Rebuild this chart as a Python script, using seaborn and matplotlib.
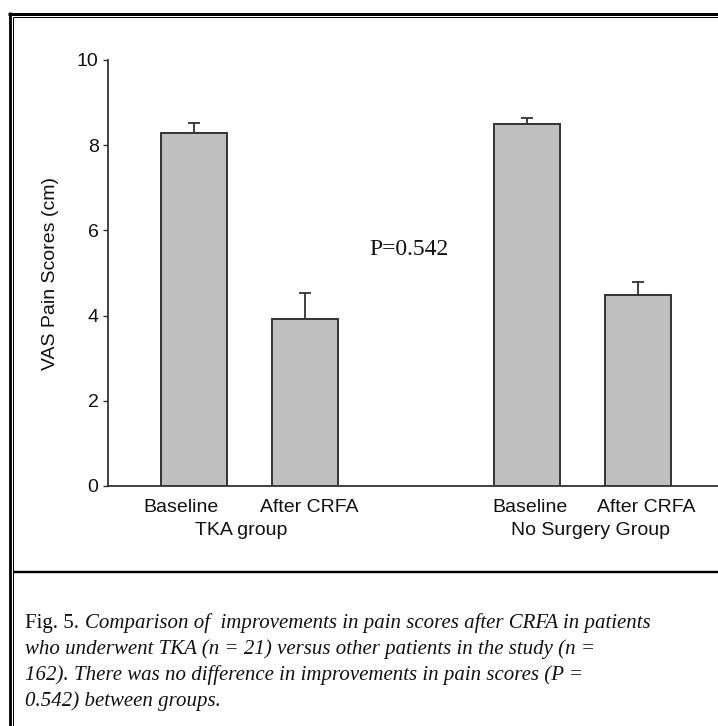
import numpy as np
import pandas as pd
import seaborn as sns
import matplotlib.pyplot as plt
from matplotlib.lines import Line2D
from matplotlib.transforms import ScaledTranslation

# VAS pain scores (mean with SEM) before and after CRFA
conditions = ["Baseline", "After CRFA", "Baseline", "After CRFA"]
groups = ["TKA group", "TKA group", "No Surgery Group", "No Surgery Group"]
positions = [0, 1, 3, 4]
vas_mean = [8.28, 3.91, 8.49, 4.48]
vas_sem = [0.25, 0.61, 0.14, 0.31]
y_ticks = [0, 2, 4, 6, 8, 10]
p_label = "P=0.542"
caption_head = "Fig. 5."
caption_lines = [
    "Comparison of  improvements in pain scores after CRFA in patients",
    "who underwent TKA (n = 21) versus other patients in the study (n =",
    "162). There was no difference in improvements in pain scores (P =",
    "0.542) between groups.",
]

# horizontal nudges (pixels) for the hand-placed category and group labels
condition_nudge_px = [-13, 4.5, 2.5, 8]
group_nudge_px = {"TKA group": -8.5, "No Surgery Group": 8}

sns.set_theme(style="ticks")
plt.rcParams["font.family"] = ["Liberation Sans", "DejaVu Sans"]

W, H = 718, 726
DPI = 100
fig = plt.figure(figsize=(W / DPI, H / DPI), dpi=DPI)
fig.patch.set_facecolor("white")


def fx(px):
    return px / W


def fy(py):
    return 1 - py / H


ax = fig.add_axes([fx(108), fy(486), fx(610), 426 / H])

df = pd.DataFrame({"pos": positions, "score": vas_mean, "group": groups})
sns.barplot(data=df, x="pos", y="score", native_scale=True, width=0.6,
            color="#c0c0c0", saturation=1, edgecolor="#333333",
            linewidth=1.4, errorbar=None, ax=ax, zorder=3)

# upper-only error bars
ax.errorbar(positions, vas_mean, yerr=[np.zeros(len(vas_sem)), vas_sem],
            fmt="none", ecolor="#333333", elinewidth=1.3, capsize=4.6,
            capthick=1.3, zorder=2)

ax.set_xlim(-0.775, 4.72)
ax.set_ylim(0, 10)
ax.set_yticks(y_ticks)
ax.set_yticklabels([str(t) for t in y_ticks])
ax.set_xticks([])
ax.tick_params(axis="y", direction="out", length=3.8, width=1.0,
               color="#333333", labelsize=14, pad=3, labelcolor="#111111")
ax.set_xlabel("")
ax.set_ylabel("VAS Pain Scores (cm)", fontsize=14, color="#111111")
ax.yaxis.set_label_coords(-0.0798, 0.5)

sns.despine(ax=ax)
for side in ("left", "bottom"):
    ax.spines[side].set_color("#333333")
    ax.spines[side].set_linewidth(1.3)
ax.set_facecolor("white")

trans = ax.get_xaxis_transform()


def nudged(px):
    return trans + ScaledTranslation(px / DPI, 0, fig.dpi_scale_trans)


# condition names under each bar
for pos, name, dx in zip(positions, conditions, condition_nudge_px):
    ax.text(pos, -0.0603, name, transform=nudged(dx), ha="center",
            va="baseline", fontsize=14, color="#111111")

# group names under each pair of bars
for g in dict.fromkeys(groups):
    xs = [p for p, gg in zip(positions, groups) if gg == g]
    ax.text(np.mean(xs), -0.115, g, transform=nudged(group_nudge_px[g]),
            ha="center", va="baseline", fontsize=14, color="#111111")

ax.text(1.94, 5.54, p_label, ha="center", va="center", fontsize=17,
        family=["Liberation Serif", "DejaVu Serif"], color="#111111")

# double-rule frame
def rule(xs, ys, px):
    fig.add_artist(Line2D([fx(x) for x in xs], [fy(y) for y in ys],
                          color="black", lw=px * 72 / DPI,
                          solid_capstyle="butt", transform=fig.transFigure))


rule([9.7, 9.7], [12, H], 2.8)
rule([13.3, 13.3], [16.8, H], 1.0)
rule([8.3, W], [13.5, 13.5], 3.0)
rule([12.8, W], [17.3, 17.3], 1.0)
rule([12.8, W], [572, 572], 2.4)

# caption
serif = ["Liberation Serif", "DejaVu Serif"]
cap_size = 15
base0 = 628
step = 26
renderer = fig.canvas.get_renderer()
head = fig.text(fx(25), fy(base0), caption_head, fontsize=cap_size,
                family=serif, va="baseline", ha="left", color="#111111")
bb = head.get_window_extent(renderer=renderer)
fig.text(fx(bb.x1 + 6), fy(base0), caption_lines[0], fontsize=cap_size,
         family=serif, style="italic", va="baseline", ha="left",
         color="#111111")
for i, line in enumerate(caption_lines[1:], start=1):
    fig.text(fx(25), fy(base0 + i * step), line, fontsize=cap_size,
             family=serif, style="italic", va="baseline", ha="left",
             color="#111111")

fig.savefig("out.png", dpi=DPI, facecolor="white")
